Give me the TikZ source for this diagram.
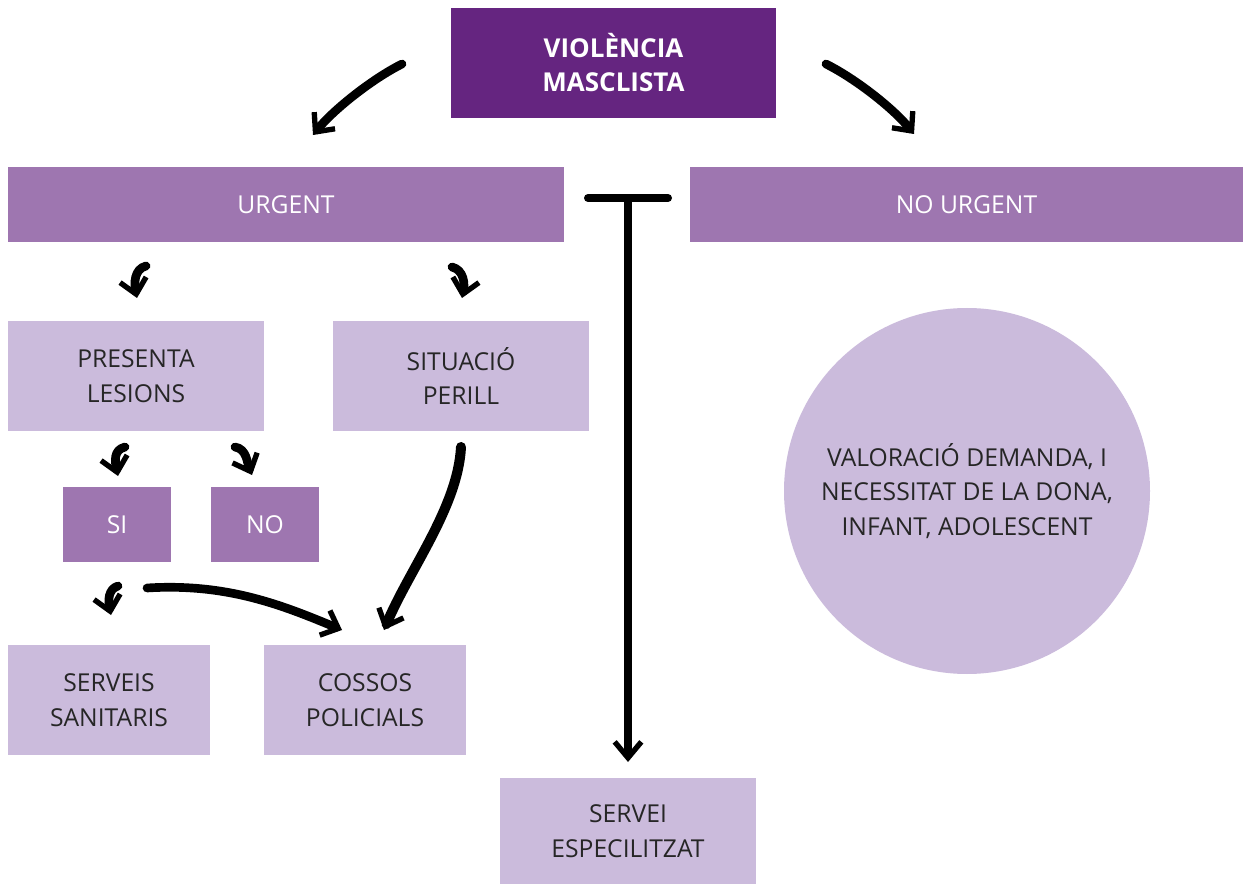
\documentclass[tikz,border=0pt]{standalone}
\usepackage{fontspec}
\setmainfont{Open Sans}
\usetikzlibrary{arrows.meta}
\definecolor{darkpurple}{RGB}{101,37,128}
\definecolor{midpurple}{RGB}{158,118,176}
\definecolor{lightpurple}{RGB}{203,187,220}
\definecolor{textgray}{RGB}{38,38,38}

\begin{document}
\begin{tikzpicture}[x=0.75pt, y=-0.75pt,
	box/.style={rectangle, inner sep=0pt, align=center, font=\fontsize{18.5}{26}\selectfont},
	midbox/.style={box, fill=midpurple, text=white},
	lightbox/.style={box, fill=lightpurple, text=textgray},
	brush/.style={line width=6.5pt, line cap=round, -{Straight Barb[length=11pt, width=20pt, line width=4pt]}}]
			\useasboundingbox (0,0) rectangle (1243,884);
			\node[box, fill=darkpurple, text=white, minimum width=243.75pt, minimum height=82.5pt, font=\fontsize{19.5}{25.5}\selectfont\bfseries] (violencia) at (613.5,63) {VIOLÈNCIA\\MASCLISTA};
			\node[midbox, minimum width=417pt, minimum height=56.25pt] (urgent) at (286,204.5) {URGENT};
			\node[midbox, minimum width=414.75pt, minimum height=56.25pt] (nourgent) at (966.5,204.5) {NO URGENT};
			\node[lightbox, minimum width=192pt, minimum height=82.5pt] (lesions) at (136,376) {PRESENTA\\LESIONS};
			\node[lightbox, minimum width=192pt, minimum height=82.5pt] (perill) at (461,376) {SITUACIÓ\\PERILL};
			\node[midbox, minimum width=81pt, minimum height=56.25pt] (si) at (117,524.5) {SI};
			\node[midbox, minimum width=81pt, minimum height=56.25pt] (no) at (265,524.5) {NO};
			\node[lightbox, minimum width=151.5pt, minimum height=82.5pt] (sanitaris) at (109,700) {SERVEIS\\SANITARIS};
			\node[lightbox, minimum width=151.5pt, minimum height=82.5pt] (policials) at (365,700) {COSSOS\\POLICIALS};
			\node[lightbox, minimum width=192pt, minimum height=79.5pt] (especialitzat) at (628,831) {SERVEI\\ESPECILITZAT};
			\node[lightbox, circle, minimum size=274.5pt] (valoracio) at (967,491) {VALORACIÓ DEMANDA, I\\NECESSITAT DE LA DONA,\\INFANT, ADOLESCENT};
			\coordinate (v1) at (402,64);
			\coordinate (u1) at (313,135);
			\coordinate (v2) at (826,64);
			\coordinate (n1) at (914,134);
			\coordinate (u2) at (146,266);
			\coordinate (l1) at (137,298);
			\coordinate (u3) at (452,267);
			\coordinate (p1) at (462,298);
			\coordinate (l2) at (125,447);
			\coordinate (s1) at (118,476);
			\coordinate (l3) at (235,447);
			\coordinate (o1) at (252,475);
			\coordinate (s2) at (118,586);
			\coordinate (a1) at (111,615);
			\coordinate (s3) at (147,588);
			\coordinate (c1) at (342,630);
			\coordinate (p2) at (461,447);
			\coordinate (c2) at (384,630);
			\coordinate (tl) at (588,198);
			\coordinate (tr) at (668,198);
			\coordinate (tm) at (628,198);
			\coordinate (e1) at (628,762);
			\draw[brush] (v1) .. controls +(-30,15) and +(20,-25) .. (u1);
			\draw[brush] (v2) .. controls +(30,15) and +(-20,-25) .. (n1);
			\draw[brush] (u2) .. controls +(-12,3) and +(-3,-14) .. (l1);
			\draw[brush] (u3) .. controls +(12,3) and +(3,-14) .. (p1);
			\draw[brush] (l2) .. controls +(-12,3) and +(-3,-14) .. (s1);
			\draw[brush] (l3) .. controls +(12,2) and +(-5,-12) .. (o1);
			\draw[brush] (s2) .. controls +(-10,3) and +(-3,-14) .. (a1);
			\draw[brush] (s3) .. controls +(80,-5) and +(-60,-25) .. (c1);
			\draw[brush, line width=7.5pt] (p2) .. controls +(-3,60) and +(25,-60) .. (c2);
			\draw[line width=6pt, line cap=round] (tl) -- (tr);
			\draw[line width=5.5pt, -{Straight Barb[length=12pt, width=20pt, line width=4pt]}] (tm) -- (e1);
		\end{tikzpicture}
\end{document}
